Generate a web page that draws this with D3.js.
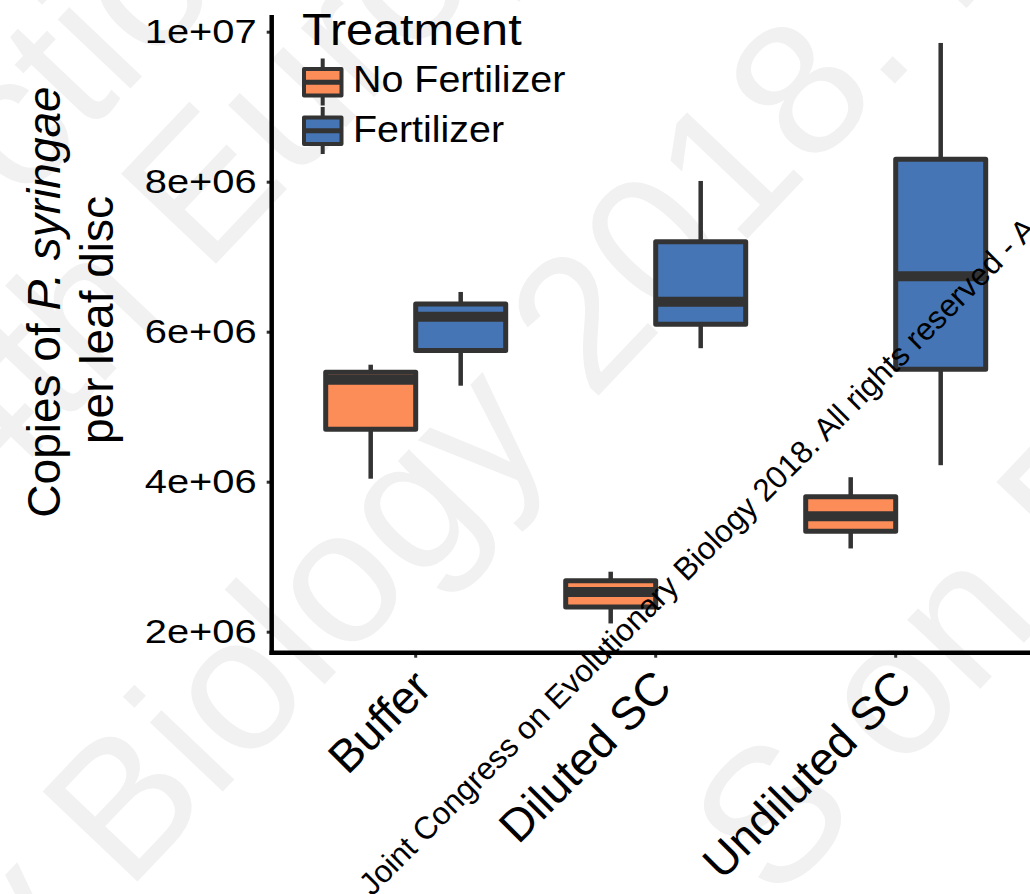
<!DOCTYPE html>
<html lang="en">
<head>
<meta charset="utf-8">
<title>P. syringae copies per leaf disc</title>
<script src="https://d3js.org/d3.v7.min.js"></script>
<style>
  body { margin: 0; background: #fff; }
  svg { display: block; font-family: "Liberation Sans", Arial, sans-serif; }
  .axis text { fill: #000; }
</style>
</head>
<body>
<script>
// categories and groups
var categories = ["Buffer", "Diluted SC", "Undiluted SC"];
var treatments = ["No Fertilizer", "Fertilizer"];
var fillColors = ["#fc8d59", "#4575b4"];

// box summaries (one value per category)
var noFertMin = [4.04e6, 2.11e6, 3.11e6];
var noFertQ1  = [4.70e6, 2.33e6, 3.34e6];
var noFertMed = [5.36e6, 2.53e6, 3.54e6];
var noFertQ3  = [5.46e6, 2.68e6, 3.80e6];
var noFertMax = [5.56e6, 2.80e6, 4.06e6];

var fertMin = [5.28e6, 5.78e6, 4.22e6];
var fertQ1  = [5.75e6, 6.10e6, 5.50e6];
var fertMed = [6.20e6, 6.40e6, 6.74e6];
var fertQ3  = [6.37e6, 7.20e6, 8.30e6];
var fertMax = [6.53e6, 8.01e6, 9.85e6];

// y ticks
var yTicks = [2e6, 4e6, 6e6, 8e6, 1e7];
var yTickLabels = ["2e+06", "4e+06", "6e+06", "8e+06", "1e+07"];

var w = 1030, h = 894;
var plotL = 271.7, plotT = 15, plotB = 652.7;
var dark = "#333333";

// build table for the boxes
var boxes = [];
categories.forEach(function(c, i) {
  boxes.push({cat: c, trt: treatments[0], min: noFertMin[i], q1: noFertQ1[i], med: noFertMed[i], q3: noFertQ3[i], max: noFertMax[i]});
  boxes.push({cat: c, trt: treatments[1], min: fertMin[i], q1: fertQ1[i], med: fertMed[i], q3: fertQ3[i], max: fertMax[i]});
});

//scales
var xScale = d3.scaleBand()
  .domain(categories)
  .range([plotL, plotL + 768])
  .paddingInner(0)
  .paddingOuter(0.1);
var step = xScale.step();
var xSub = d3.scaleBand()
  .domain(treatments)
  .range([step * 0.125, step * 0.875]);
var yScale = d3.scaleLinear()
  .domain([2e6, 1e7])
  .range([631.7, 31.7]);
var color = d3.scaleOrdinal().domain(treatments).range(fillColors);

var svg = d3.select("body").append("svg")
  .attr("width", w)
  .attr("height", h);

svg.append("rect").attr("width", w).attr("height", h).attr("fill", "#fff");

// faint background watermark (pieces that show in the picture)
var bgMarks = [
  {t: "ction", x: 20, y: 205},
  {t: "4th Europ", x: -13, y: 505},
  {t: "y Biology 2018. F", x: 25, y: 1000},
  {t: "S on F", x: 775, y: 905}
];
svg.append("g")
  .selectAll("text")
  .data(bgMarks)
  .enter()
  .append("text")
  .attr("transform", function(d) { return "translate(" + d.x + "," + d.y + ") rotate(-46.5)"; })
  .attr("font-size", 190)
  .attr("fill", "#f1f1f1")
  .text(function(d) { return d.t; });

// whiskers
var gBox = svg.append("g");
gBox.selectAll("line.upper")
  .data(boxes)
  .enter()
  .append("line")
  .attr("class", "upper")
  .attr("x1", function(d) { return xScale(d.cat) + xSub(d.trt) + xSub.bandwidth() / 2; })
  .attr("x2", function(d) { return xScale(d.cat) + xSub(d.trt) + xSub.bandwidth() / 2; })
  .attr("y1", function(d) { return yScale(d.max); })
  .attr("y2", function(d) { return yScale(d.q3); })
  .attr("stroke", dark)
  .attr("stroke-width", 4.5);
gBox.selectAll("line.lower")
  .data(boxes)
  .enter()
  .append("line")
  .attr("class", "lower")
  .attr("x1", function(d) { return xScale(d.cat) + xSub(d.trt) + xSub.bandwidth() / 2; })
  .attr("x2", function(d) { return xScale(d.cat) + xSub(d.trt) + xSub.bandwidth() / 2; })
  .attr("y1", function(d) { return yScale(d.q1); })
  .attr("y2", function(d) { return yScale(d.min); })
  .attr("stroke", dark)
  .attr("stroke-width", 4.5);

// boxes
gBox.selectAll("rect")
  .data(boxes)
  .enter()
  .append("rect")
  .attr("x", function(d) { return xScale(d.cat) + xSub(d.trt); })
  .attr("width", xSub.bandwidth())
  .attr("y", function(d) { return yScale(d.q3); })
  .attr("height", function(d) { return yScale(d.q1) - yScale(d.q3); })
  .attr("fill", function(d) { return color(d.trt); })
  .attr("stroke", dark)
  .attr("stroke-width", 5)
  .attr("stroke-linejoin", "round");

// medians
gBox.selectAll("line.med")
  .data(boxes)
  .enter()
  .append("line")
  .attr("class", "med")
  .attr("x1", function(d) { return xScale(d.cat) + xSub(d.trt); })
  .attr("x2", function(d) { return xScale(d.cat) + xSub(d.trt) + xSub.bandwidth(); })
  .attr("y1", function(d) { return yScale(d.med); })
  .attr("y2", function(d) { return yScale(d.med); })
  .attr("stroke", dark)
  .attr("stroke-width", 10);

// y axis
var ySx = 1.19;
var yAxis = d3.axisLeft(yScale)
  .tickValues(yTicks)
  .tickFormat(function(d, i) { return yTickLabels[i]; })
  .tickSize(5)
  .tickSizeOuter(0);
var gy = svg.append("g")
  .attr("class", "axis")
  .attr("transform", "translate(" + plotL + ",0)")
  .call(yAxis);
gy.select(".domain").remove();
gy.selectAll(".tick line").attr("stroke", dark).attr("stroke-width", 3);
gy.selectAll(".tick text")
  .attr("font-size", 33.5)
  .attr("x", -15 / ySx)
  .attr("transform", "scale(" + ySx + ",1)");

// x axis
var xAxis = d3.axisBottom(xScale)
  .tickSize(5)
  .tickSizeOuter(0);
var gx = svg.append("g")
  .attr("class", "axis")
  .attr("transform", "translate(0," + plotB + ")")
  .call(xAxis);
gx.select(".domain").remove();
gx.selectAll(".tick line").attr("stroke", dark).attr("stroke-width", 3);
gx.selectAll(".tick text")
  .attr("font-size", 46)
  .attr("text-anchor", "end")
  .attr("x", null)
  .attr("y", null)
  .attr("dy", null)
  .attr("transform", "translate(18,37) rotate(-45)");

// axis lines
svg.append("line")
  .attr("x1", plotL).attr("x2", plotL)
  .attr("y1", plotT).attr("y2", plotB + 2.2)
  .attr("stroke", "#000").attr("stroke-width", 4.5);
svg.append("line")
  .attr("x1", plotL - 2.2).attr("x2", w)
  .attr("y1", plotB).attr("y2", plotB)
  .attr("stroke", "#000").attr("stroke-width", 4.5);

// y title
var yTitle = svg.append("g").attr("transform", "rotate(-90)").attr("font-size", 46);
var t1 = yTitle.append("text")
  .attr("x", -302)
  .attr("y", 60)
  .attr("text-anchor", "middle");
t1.append("tspan").text("Copies of ");
t1.append("tspan").attr("font-style", "italic").text("P. syringae");
yTitle.append("text")
  .attr("x", -320)
  .attr("y", 113)
  .attr("text-anchor", "middle")
  .text("per leaf disc");

// legend
var legend = svg.append("g");
legend.append("text")
  .attr("transform", "translate(302,45) scale(1.08,1)")
  .attr("font-size", 45)
  .text("Treatment");
var keys = legend.selectAll("g.key")
  .data(treatments)
  .enter()
  .append("g")
  .attr("class", "key")
  .attr("transform", function(d, i) { return "translate(302," + (67 + i * 48.5) + ")"; });
keys.append("line")
  .attr("x1", 20.7).attr("x2", 20.7)
  .attr("y1", -8.5).attr("y2", 38.5)
  .attr("stroke", dark).attr("stroke-width", 4);
keys.append("rect")
  .attr("x", 2).attr("y", 2)
  .attr("width", 37.5).attr("height", 26.5)
  .attr("fill", function(d) { return color(d); })
  .attr("stroke", dark)
  .attr("stroke-width", 4)
  .attr("stroke-linejoin", "round");
keys.append("line")
  .attr("x1", 2).attr("x2", 39.5)
  .attr("y1", 15.2).attr("y2", 15.2)
  .attr("stroke", dark).attr("stroke-width", 5);
keys.append("text")
  .attr("transform", function(d, i) { return "translate(51," + (24.7 + i * 1.5) + ") scale(1.065,1)"; })
  .attr("font-size", 37)
  .text(function(d) { return d; });

// watermark line over the plot
svg.append("text")
  .attr("transform", "translate(372,897) rotate(-45)")
  .attr("font-size", 31.5)
  .attr("fill", "#000")
  .text("Joint Congress on Evolutionary Biology 2018. All rights reserved - A");
</script>
</body>
</html>
